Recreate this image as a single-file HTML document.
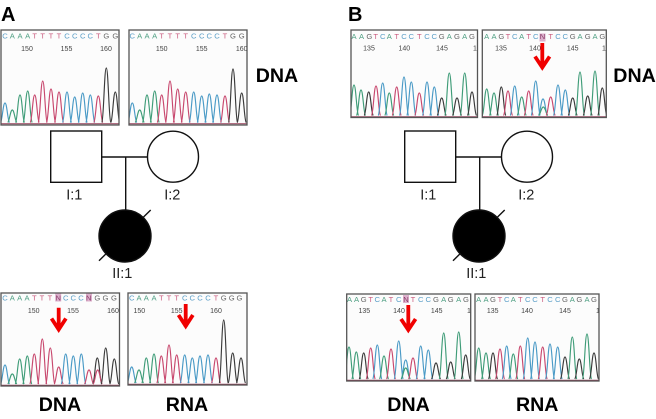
<!DOCTYPE html>
<html><head><meta charset="utf-8">
<style>
html,body{margin:0;padding:0;background:#fff}
svg{display:block;font-family:"Liberation Sans",sans-serif}
.seq{font-size:7.6px;text-anchor:middle}
.num{font-size:7px;fill:#444;text-anchor:middle}
.a{fill:#4f9f83}.c{fill:#5c9fc8}.t{fill:#c9587c}.g{fill:#666}.n{fill:#8a3a68}
.lab{font-size:19.6px;font-weight:bold;fill:#000}
.ped{font-size:14.5px;fill:#222;text-anchor:middle}
.fr{fill:none;stroke:#555;stroke-width:1.3}
.bg{fill:#fcfcfc}
.tr{fill:none;stroke-width:1.15;stroke-linejoin:round}
.soft{filter:blur(.35px)}
</style></head>
<body>
<svg width="656" height="419" viewBox="0 0 656 419" xmlns="http://www.w3.org/2000/svg">
<text class="lab" x="1" y="21" style="font-size:20px">A</text>
<text class="lab" x="348" y="21" style="font-size:20px">B</text>

<g class="soft">
<!-- A1 -->
<rect class="bg" x="1" y="30" width="118" height="95"/>
<svg x="1" y="30" width="118" height="95" viewBox="1 30 118 95">
<text class="seq" y="38.5" x="5 12.3 20 27.7 34.7 42.7 51 59 67 74.7 82.7 90.3 98.3 106.3 115.3"><tspan class="c">C</tspan><tspan class="a">AAA</tspan><tspan class="t">TTTT</tspan><tspan class="c">CCCC</tspan><tspan class="t">T</tspan><tspan class="g">GG</tspan></text>
<text class="num" x="27" y="51">150</text><text class="num" x="66.5" y="51">155</text><text class="num" x="106" y="51">160</text>
<g id="p0"></g></svg>
<rect class="fr" x="1" y="30" width="118" height="95"/>
<!-- A2 -->
<rect class="bg" x="129" y="30" width="118" height="95"/>
<svg x="129" y="30" width="118" height="95" viewBox="129 30 118 95">
<text class="seq" y="38.5" x="132.3 139.7 147 154.7 161.7 170 177.7 185.7 193.7 201.7 209.3 217 225 233 241.7"><tspan class="c">C</tspan><tspan class="a">AAA</tspan><tspan class="t">TTTT</tspan><tspan class="c">CCCC</tspan><tspan class="t">T</tspan><tspan class="g">GG</tspan></text>
<text class="num" x="161.7" y="51">150</text><text class="num" x="201.7" y="51">155</text><text class="num" x="241.7" y="51">160</text>
<g id="p1"></g></svg>
<rect class="fr" x="129" y="30" width="118" height="95"/>
<!-- A3 -->
<rect class="bg" x="1" y="293" width="118.5" height="93"/>
<svg x="1" y="293" width="118.5" height="93" viewBox="1 293 118.5 93">
<rect x="55.2" y="293.5" width="6" height="8" fill="#dcb0cc"/><rect x="86" y="293.5" width="6" height="8" fill="#dcb0cc"/>
<text class="seq" y="300.6" x="5 12.3 19.7 27 34.3 42 50 58.2 65.7 73.3 81 88.8 97.3 105.5 114"><tspan class="c">C</tspan><tspan class="a">AAA</tspan><tspan class="t">TTT</tspan><tspan class="n">N</tspan><tspan class="c">CCC</tspan><tspan class="n">N</tspan><tspan class="g">GGG</tspan></text>
<text class="num" x="33.7" y="313">150</text><text class="num" x="73" y="313">155</text><text class="num" x="113" y="313">160</text>
<g id="p2"></g></svg>
<rect class="fr" x="1" y="293" width="118.5" height="93"/>
<!-- A4 -->
<rect class="bg" x="128" y="293" width="119" height="92"/>
<svg x="128" y="293" width="119" height="92" viewBox="128 293 119 92">
<text class="seq" y="300.6" x="131.7 139 146.3 154 161.3 169 176.7 184.7 192.3 200 208 216 223.7 231.7 239.5"><tspan class="c">C</tspan><tspan class="a">AAA</tspan><tspan class="t">TTT</tspan><tspan class="c">CCCC</tspan><tspan class="t">T</tspan><tspan class="g">GGG</tspan></text>
<text class="num" x="139.3" y="313">150</text><text class="num" x="176.7" y="313">155</text><text class="num" x="216" y="313">160</text>
<g id="p3"></g></svg>
<rect class="fr" x="128" y="293" width="119" height="92"/>
<!-- B1 -->
<rect class="bg" x="351" y="30" width="126.5" height="87.5"/>
<svg x="351" y="30" width="126.5" height="87.5" viewBox="351 30 126.5 87.5">
<text class="seq" y="38.8" x="354 361.5 369.3 375.7 382.7 389.3 396.7 404 411.3 419.3 427 434.3 441.7 449.3 457 464.7 472"><tspan class="a">AA</tspan><tspan class="g">G</tspan><tspan class="t">T</tspan><tspan class="c">C</tspan><tspan class="a">A</tspan><tspan class="t">T</tspan><tspan class="c">CC</tspan><tspan class="t">T</tspan><tspan class="c">CC</tspan><tspan class="g">G</tspan><tspan class="a">A</tspan><tspan class="g">G</tspan><tspan class="a">A</tspan><tspan class="g">G</tspan></text>
<text class="num" x="369" y="50.5">135</text><text class="num" x="404.3" y="50.5">140</text><text class="num" x="442" y="50.5">145</text><text class="num" x="475" y="50.5">1</text>
<g id="p4"></g></svg>
<rect class="fr" x="351" y="30" width="126.5" height="87.5"/>
<!-- B2 -->
<rect class="bg" x="482.3" y="30" width="124" height="87.5"/>
<svg x="482.3" y="30" width="124" height="87.5" viewBox="482.3 30 124 87.5">
<rect x="539.5" y="33.5" width="6" height="8" fill="#dcb0cc"/>
<text class="seq" y="38.8" x="486.7 494 501.3 508 514.7 521.7 528.7 535.7 542.5 550.7 558 565.3 572.7 580 587.7 595 602.3"><tspan class="a">AA</tspan><tspan class="g">G</tspan><tspan class="t">T</tspan><tspan class="c">C</tspan><tspan class="a">A</tspan><tspan class="t">T</tspan><tspan class="c">C</tspan><tspan class="n">N</tspan><tspan class="t">T</tspan><tspan class="c">CC</tspan><tspan class="g">G</tspan><tspan class="a">A</tspan><tspan class="g">G</tspan><tspan class="a">A</tspan><tspan class="g">G</tspan></text>
<text class="num" x="501" y="50.5">135</text><text class="num" x="535" y="50.5">140</text><text class="num" x="572.7" y="50.5">145</text><text class="num" x="604" y="50.5">1</text>
<g id="p5"></g></svg>
<rect class="fr" x="482.3" y="30" width="124" height="87.5"/>
<!-- B3 -->
<rect class="bg" x="346.7" y="294" width="124" height="87"/>
<svg x="346.7" y="294" width="124" height="87" viewBox="346.7 294 124 87">
<rect x="403" y="295" width="6" height="8" fill="#dcb0cc"/>
<text class="seq" y="301.8" x="349.5 356.5 363.7 370.7 377.3 384 391 398.7 406 413 420.7 428.3 436 443.7 450.7 458.7 466"><tspan class="a">AA</tspan><tspan class="g">G</tspan><tspan class="t">T</tspan><tspan class="c">C</tspan><tspan class="a">A</tspan><tspan class="t">T</tspan><tspan class="c">C</tspan><tspan class="n">N</tspan><tspan class="t">T</tspan><tspan class="c">CC</tspan><tspan class="g">G</tspan><tspan class="a">A</tspan><tspan class="g">G</tspan><tspan class="a">A</tspan><tspan class="g">G</tspan></text>
<text class="num" x="364.3" y="313">135</text><text class="num" x="399" y="313">140</text><text class="num" x="436.7" y="313">145</text><text class="num" x="469" y="313">1</text>
<g id="p6"></g></svg>
<rect class="fr" x="346.7" y="294" width="124" height="87"/>
<!-- B4 -->
<rect class="bg" x="475" y="294" width="124" height="87"/>
<svg x="475" y="294" width="124" height="87" viewBox="475 294 124 87">
<text class="seq" y="301.8" x="478.7 486 493 500 506.7 513.3 520.3 527.7 535 542.7 550 557.7 565 572.3 579.3 587 594"><tspan class="a">AA</tspan><tspan class="g">G</tspan><tspan class="t">T</tspan><tspan class="c">C</tspan><tspan class="a">A</tspan><tspan class="t">T</tspan><tspan class="c">CC</tspan><tspan class="t">T</tspan><tspan class="c">CC</tspan><tspan class="g">G</tspan><tspan class="a">A</tspan><tspan class="g">G</tspan><tspan class="a">A</tspan><tspan class="g">G</tspan></text>
<text class="num" x="492.7" y="313">135</text><text class="num" x="527" y="313">140</text><text class="num" x="565" y="313">145</text><text class="num" x="598" y="313">1</text>
<g id="p7"></g></svg>
<rect class="fr" x="475" y="294" width="124" height="87"/>
</g>

<!-- Arrows -->
<g fill="none" stroke="#f00000" stroke-width="3.8">
<path d="M58.7 307.7V330M51.5 318.5L58.7 329.5L65.9 318.5"/>
<path d="M185.7 304V327M178.5 315L185.7 326L192.9 315"/>
<path d="M542.3 43V68M535 56.5L542.3 67.5L549.6 56.5"/>
<path d="M408.3 305V330M401 319L408.3 330L415.6 319"/>
</g>

<!-- Pedigree A -->
<g stroke="#111" stroke-width="1.4" fill="none">
<rect x="50.7" y="131" width="51" height="51.3" fill="#fff"/>
<circle cx="173" cy="156.7" r="25.5" fill="#fff"/>
<path d="M101.7 157H147.5M125.7 157V212"/>
<path d="M99 260.7L150.7 210"/>
<circle cx="125" cy="236" r="26" fill="#000"/>
</g>
<text class="ped" x="74.3" y="199.5">I:1</text>
<text class="ped" x="172.3" y="199.5">I:2</text>
<text class="ped" x="122.3" y="278">II:1</text>

<!-- Pedigree B -->
<g stroke="#111" stroke-width="1.4" fill="none" transform="translate(354 0)">
<rect x="50.7" y="131" width="51" height="51.3" fill="#fff"/>
<circle cx="173" cy="156.7" r="25.5" fill="#fff"/>
<path d="M101.7 157H147.5M125.7 157V212"/>
<path d="M99 260.7L150.7 210"/>
<circle cx="125" cy="236" r="26" fill="#000"/>
</g>
<text class="ped" x="428.3" y="199.5">I:1</text>
<text class="ped" x="526.3" y="199.5">I:2</text>
<text class="ped" x="476.3" y="278">II:1</text>

<!-- Labels -->
<text class="lab" x="255.7" y="82">DNA</text>
<text class="lab" x="613.3" y="82">DNA</text>
<text class="lab" x="38.7" y="411">DNA</text>
<text class="lab" x="165.7" y="411">RNA</text>
<text class="lab" x="387.3" y="411">DNA</text>
<text class="lab" x="516" y="411">RNA</text>
</svg>
<script>
var C={b:"#4a9ac6",g:"#3f9c78",r:"#c8486e",k:"#3a3a3a"};
var D=[
[123.5,"b5,103 g12.3,110 g20,95 g27.7,91 r34.7,95 r42.7,81 r51,89 r59,92 b67,92 b74.7,97 b82.7,93 b90.3,95 r98.3,96 k106.3,68 k115.3,92"],
[123.5,"b132.3,103 g139.7,110 g147,95 g154.7,91 r161.7,95 r170,81 r177.7,89 r185.7,92 b193.7,92 b201.7,96 b209.3,94 b217,95 r225,96 k233,69 k241.7,93"],
[385,"b5,365 g12.3,374 g19.7,359 g27.3,356 r34.3,354 r42.3,339 r50.3,348 r58.7,367 b65.7,354 b73.3,356 b81.3,354 r89,370 k97.3,358 r97.7,370 k105.7,348 k114.3,359"],
[384,"b131.7,367 g139,370 g146.3,358 g154,354 r161.3,356 r169,345 r176.7,355 b184.7,355 b192.3,358 b200,356 b208,355 r216,358 k223.7,320 k232.7,353 k241,358"],
[116.5,"g354,85 g361,90 k368.7,92 r376,86 b382.7,83 g389.3,93 r396.7,87 b404,77 b411.3,82 r419.3,93 b427,82 b434.3,87 k441.7,98 g449.3,73 k457,98 g464.7,73 k472,92"],
[116.5,"g486.7,89 g494,93 k501.3,87 r508,91 b514.7,86 g521.7,97 r528.7,91 b535.7,81 b543,99 g543.3,107 r550.7,97 b558,85 b565.3,90 k572.7,98 g580,72 k587.7,96 g595,71 k602.3,88"],
[380,"g349,347 g356.3,352 k363.7,353 r370.7,348 b377.3,345 g384,356 r391,349 b398.7,341 b405.7,360 g405.7,368 r413,358 b420.7,346 b428.3,350 k436,363 g443.7,333 k450.7,362 g458.7,332 k465.7,355"],
[380,"g478.7,348 g486,353 k493,353 r500,349 b506.7,346 g513.3,354 r520.3,346 b527.7,338 b535,342 r542.7,347 b550,344 b557.7,347 k565,357 g572.3,337 k579.3,359 g587,334 k594,353"]
];
D.forEach(function(d,i){
 var b=d[0],s="",g=document.getElementById("p"+i);
 d[1].split(" ").forEach(function(p){
  var c=p[0],q=p.slice(1).split(","),x=+q[0],t=+q[1],w=4.5;
  s+='<path class="tr" stroke="'+C[c]+'" d="M'+(x-w)+' '+(b-1)+'C'+(x-2.6)+' '+(b-3)+' '+(x-2)+' '+t+' '+x+' '+t+'C'+(x+2)+' '+t+' '+(x+2.6)+' '+(b-3)+' '+(x+w)+' '+(b-1)+'"/>';
 });
 var a=g.closest("svg").getAttribute("viewBox").split(" ");
 s+='<path stroke="#96405a" stroke-width="1" d="M'+a[0]+' '+(b+.3)+'H'+(+a[0]+ +a[2])+'"/>';
 g.innerHTML=s;
});
</script>
</body></html>
